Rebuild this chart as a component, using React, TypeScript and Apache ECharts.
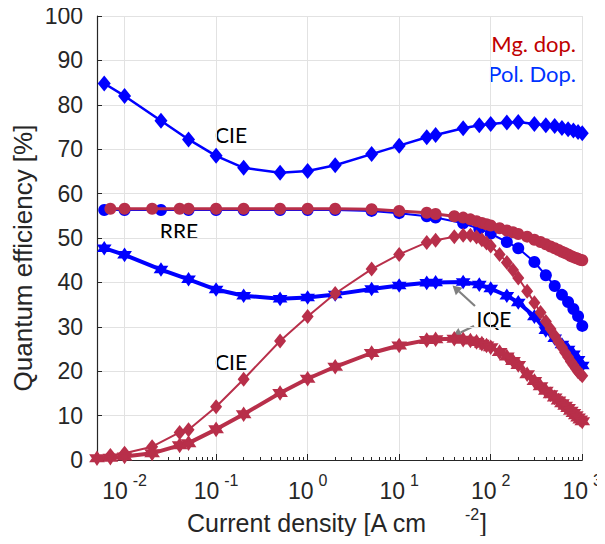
import React, { useEffect, useRef } from 'react';
import * as echarts from 'echarts';

const BLUE = '#0000ff';
const RED = '#b82f4a';
const AXIS = '#262626';
const GRID = '#e2e2e2';

// Polarization doped (blue) samples
const bluePolX = [0.006, 0.01, 0.025, 0.05, 0.1, 0.2, 0.5, 1, 2, 5, 10, 20, 25, 50, 75, 100, 150, 200, 300, 400, 500, 600, 700, 800, 900, 1000];
const blueCIE = [84.8, 82.0, 76.4, 72.2, 68.5, 65.8, 64.7, 65.1, 66.4, 68.9, 70.8, 72.7, 73.2, 74.7, 75.4, 75.7, 76.0, 76.1, 75.7, 75.4, 75.2, 74.8, 74.5, 74.2, 73.9, 73.6];
const blueRRE = [56.3, 56.3, 56.3, 56.3, 56.3, 56.3, 56.3, 56.3, 56.3, 56.1, 55.6, 54.9, 54.6, 53.3, 52.1, 51.0, 49.1, 47.7, 44.6, 41.6, 39.2, 37.2, 35.6, 34.0, 32.4, 30.2];
const blueIQE = [47.7, 46.2, 42.9, 40.7, 38.4, 37.0, 36.3, 36.6, 37.3, 38.5, 39.3, 39.9, 40.0, 40.1, 39.5, 38.6, 37.0, 35.5, 32.3, 29.2, 27.4, 26.0, 24.9, 23.8, 22.6, 21.3];

// Mg doped (red) samples
const redX = [0.007, 0.01, 0.02, 0.04, 0.05, 0.1, 0.2, 0.5, 1, 2, 5, 10, 20, 25, 40, 50, 60, 70, 80, 90, 100, 125, 150, 175, 200, 250, 300, 350, 400, 450, 500, 550, 600, 650, 700, 750, 800, 850, 900, 950, 1000];
const redCIE = [1.0, 1.5, 3.0, 6.2, 6.8, 12.0, 18.2, 26.8, 32.3, 37.5, 43.0, 46.3, 49.0, 49.5, 50.3, 50.6, 50.6, 50.2, 49.6, 48.9, 48.2, 46.3, 44.5, 42.8, 41.0, 38.0, 35.4, 33.2, 31.2, 29.5, 28.0, 26.6, 25.4, 24.2, 23.2, 22.2, 21.4, 20.6, 19.9, 19.4, 19.0];
const redRRE = [56.6, 56.6, 56.6, 56.6, 56.6, 56.6, 56.6, 56.6, 56.6, 56.6, 56.5, 56.1, 55.7, 55.4, 54.9, 54.6, 54.2, 53.8, 53.4, 53.1, 52.8, 52.2, 51.7, 51.3, 50.9, 50.3, 49.6, 49.1, 48.6, 48.1, 47.7, 47.3, 46.9, 46.6, 46.3, 45.95, 45.7, 45.5, 45.3, 45.1, 45.0];
const redIQE = [0.5, 0.8, 1.5, 3.3, 3.8, 6.9, 10.3, 15.1, 18.3, 21.0, 24.1, 25.8, 27.0, 27.2, 27.3, 27.1, 26.9, 26.6, 26.2, 25.8, 25.4, 24.3, 23.3, 22.3, 21.4, 19.3, 17.8, 16.6, 15.6, 14.8, 14.1, 13.4, 12.8, 12.2, 11.7, 11.1, 10.6, 10.1, 9.6, 9.1, 8.7];
const redIQEStartX = 0.005;
const redIQEStartY = 0.4;

const xMin = 0.005;
const xMax = 1000;
const minorMultipliers = [2, 3, 4, 5, 6, 7, 8, 9];
const decades = [-3, -2, -1, 0, 1, 2];
const yTicks = { min: 0, max: 100, interval: 10 };

const HEXAGRAM = 'path://M0,-10L2.89,-5L8.66,-5L5.77,0L8.66,5L2.89,5L0,10L-2.89,5L-8.66,5L-5.77,0L-8.66,-5L-2.89,-5Z';

const zip = (xs: number[], ys: number[]) => xs.map((x, i) => [x, ys[i]]);

function arrow(x1: number, y1: number, x2: number, y2: number, color: string) {
  const dx = x2 - x1;
  const dy = y2 - y1;
  const len = Math.sqrt(dx * dx + dy * dy);
  const ux = dx / len;
  const uy = dy / len;
  const headL = 9;
  const headW = 5;
  const bx = x2 - ux * headL;
  const by = y2 - uy * headL;
  return [
    { type: 'line', silent: true, shape: { x1, y1, x2: bx, y2: by }, style: { stroke: color, lineWidth: 2.2 } },
    {
      type: 'polygon', silent: true,
      shape: { points: [[x2, y2], [bx - uy * headW, by + ux * headW], [bx + uy * headW, by - ux * headW]] },
      style: { fill: color },
    },
  ];
}

function txt(text: string, x: number, y: number, font: string, fill: string, align = 'center', rotation = 0) {
  return {
    type: 'text', silent: true, x, y, rotation,
    style: { text, x: 0, y: 0, font, fill, align, textAlign: align, verticalAlign: 'middle', textVerticalAlign: 'middle' },
  };
}

export default function App() {
  const ref = useRef<HTMLDivElement>(null);

  useEffect(() => {
    if (!ref.current) return;
    const chart = echarts.init(ref.current, undefined, { renderer: 'svg' });

    const minorTicks: number[] = [];
    decades.forEach((d) => minorMultipliers.forEach((m) => {
      const v = m * Math.pow(10, d);
      if (v >= xMin * 0.999 && v <= xMax) minorTicks.push(v);
    }));

    const labelFont = 'Liberation Sans, Arial, sans-serif';

    const option: any = {
      animation: false,
      backgroundColor: '#ffffff',
      grid: { left: 97, right: 22, top: 16, bottom: 84, containLabel: false },
      xAxis: [
        {
          type: 'log', logBase: 10, min: xMin, max: xMax, gridIndex: 0, position: 'bottom',
          axisLine: { show: true, onZero: false, lineStyle: { color: AXIS, width: 1.2 } },
          axisTick: { show: true, inside: true, length: 6, lineStyle: { color: AXIS, width: 1 } },
          axisLabel: {
            margin: 12,
            showMinLabel: false,
            formatter: (v: number) => {
              const e = Math.log10(v);
              const r = Math.round(e);
              if (Math.abs(e - r) > 1e-6) return '';
              return `{b|10}{s|${r}}`;
            },
            rich: {
              b: { fontSize: 23, fontFamily: labelFont, color: AXIS, verticalAlign: 'bottom', lineHeight: 30 },
              s: { fontSize: 16, fontFamily: labelFont, color: AXIS, verticalAlign: 'top', lineHeight: 16, padding: [0, 0, 0, 5] },
            },
          },
          splitLine: { show: true, lineStyle: { color: GRID, width: 1 } },
        },
        {
          type: 'log', logBase: 10, min: xMin, max: xMax, gridIndex: 0, position: 'bottom',
          axisLine: { show: false, onZero: false },
          axisLabel: { show: false },
          splitLine: { show: false },
          axisTick: { show: true, inside: true, length: 3, customValues: minorTicks, lineStyle: { color: AXIS, width: 1 } },
        },
      ],
      yAxis: {
        type: 'value', min: yTicks.min, max: yTicks.max, interval: yTicks.interval,
        axisLine: { show: true, lineStyle: { color: AXIS, width: 1.2 } },
        axisTick: { show: true, inside: true, length: 5, lineStyle: { color: AXIS } },
        axisLabel: { fontSize: 23, fontFamily: labelFont, color: AXIS, margin: 14 },
        splitLine: { show: true, lineStyle: { color: GRID, width: 1 } },
      },
      series: [
        {
          name: 'Pol CIE', type: 'line', data: zip(bluePolX, blueCIE),
          symbol: 'diamond', symbolSize: [13, 16],
          lineStyle: { color: BLUE, width: 2.5 }, itemStyle: { color: BLUE }, z: 2,
        },
        {
          name: 'Pol IQE', type: 'line', data: zip(bluePolX, blueIQE),
          symbol: HEXAGRAM, symbolSize: 11,
          lineStyle: { color: BLUE, width: 4 }, itemStyle: { color: BLUE, borderColor: BLUE, borderWidth: 2 }, z: 2,
        },
        {
          name: 'Pol RRE', type: 'line', data: zip(bluePolX, blueRRE),
          symbol: 'circle', symbolSize: 12,
          lineStyle: { color: BLUE, width: 2 }, itemStyle: { color: BLUE }, z: 2,
        },
        {
          name: 'Mg CIE', type: 'line', data: zip(redX, redCIE),
          symbol: 'diamond', symbolSize: [12, 15],
          lineStyle: { color: RED, width: 2 }, itemStyle: { color: RED }, z: 3,
        },
        {
          name: 'Mg IQE', type: 'line', data: [[redIQEStartX, redIQEStartY], ...zip(redX, redIQE)],
          symbol: HEXAGRAM, symbolSize: 12,
          lineStyle: { color: RED, width: 4 }, itemStyle: { color: RED, borderColor: RED, borderWidth: 2 }, z: 3,
        },
        {
          name: 'Mg RRE', type: 'line', data: zip(redX, redRRE),
          symbol: 'circle', symbolSize: 12,
          lineStyle: { color: RED, width: 3 }, itemStyle: { color: RED }, z: 3,
        },
      ],
      graphic: [
        txt('Quantum efficiency [%]', 23, 258, `26px ${labelFont}`, AXIS, 'center', Math.PI / 2),
        txt('Current density [A cm', 187, 523, `25px ${labelFont}`, AXIS, 'left'),
        txt('-2', 465, 514, `16px ${labelFont}`, AXIS, 'left'),
        txt(']', 480, 523, `25px ${labelFont}`, AXIS, 'left'),
        txt('Mg. dop.', 576, 43, '22px Lato', '#c00000', 'right'),
        txt('Pol. Dop.', 576, 73, '22px Lato', '#0033ff', 'right'),
        txt('CIE', 231, 134, '21px Lato', '#000000'),
        txt('RRE', 179, 230, '21px Lato', '#000000'),
        txt('CIE', 231, 361, '21px Lato', '#000000'),
        txt('IQE', 494, 318, '21px Lato', '#000000'),
        ...arrow(475, 306, 452.5, 285.5, '#808080'),
        ...arrow(474, 326, 452.5, 336.5, '#808080'),
      ],
    };

    chart.setOption(option);
    return () => chart.dispose();
  }, []);

  return <div ref={ref} style={{ width: 605, height: 544, margin: -8, background: '#fff' }} />;
}
